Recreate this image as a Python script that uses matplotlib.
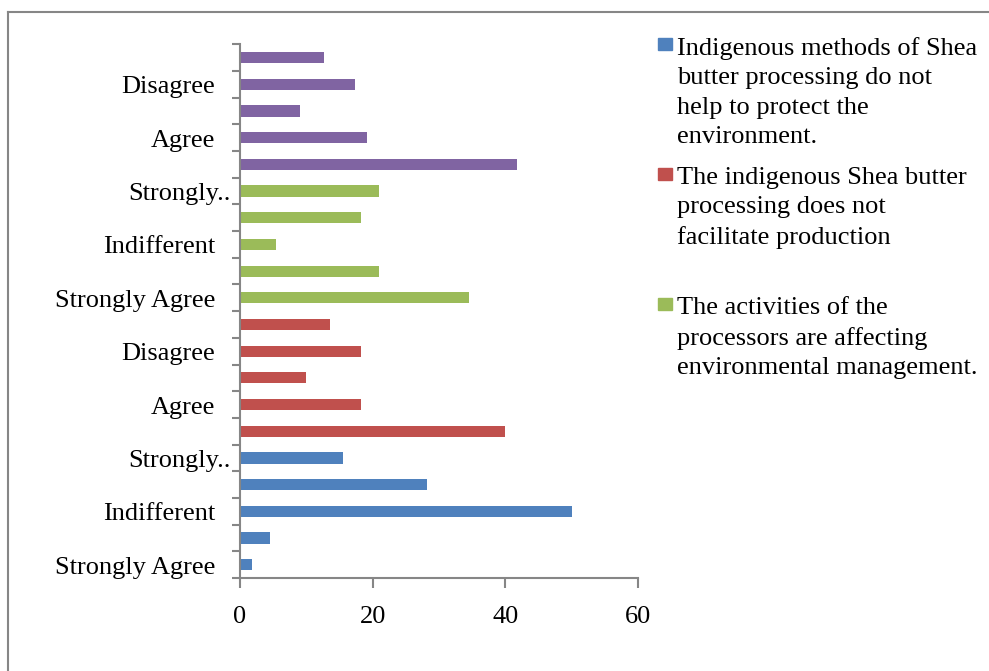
import numpy as np
import matplotlib
import matplotlib.pyplot as plt
from matplotlib.patches import Rectangle
from matplotlib.lines import Line2D
import matplotlib.transforms as mtransforms

# --- data ---
responses = ["Strongly Agree", "Agree", "Indifferent", "Disagree", "Strongly Disagree"]
series_names = [
    "Indigenous methods of Shea\nbutter processing do not\nhelp to protect the\nenvironment.",
    "The indigenous Shea butter\nprocessing does not\nfacilitate production",
    "The activities of the\nprocessors are affecting\nenvironmental management.",
]
blue_vals = [1.8, 4.5, 50.0, 28.2, 15.5]
red_vals = [40.0, 18.2, 10.0, 18.2, 13.6]
green_vals = [34.5, 20.9, 5.5, 18.2, 20.9]
purple_vals = [41.8, 19.1, 9.1, 17.3, 12.7]
# label shown only on every other category (Excel skips), long ones truncated
shown_labels = ["Strongly Agree", "Indifferent", "Strongly..", "Agree", "Disagree",
                "Strongly Agree", "Indifferent", "Strongly..", "Agree", "Disagree"]
xticks = [0, 20, 40, 60]

colors = ["#4F81BD", "#C0504D", "#9BBB59", "#8064A2"]
grey = "#868686"

matplotlib.rcParams.update({
    "font.family": "Liberation Serif",
    "font.size": 19,
})

fig = plt.figure(figsize=(9.89, 6.71), dpi=100)
ax = fig.add_axes([240 / 989, 1 - 578 / 671, 398 / 989, (578 - 44.3) / 671])

all_vals = [blue_vals, red_vals, green_vals, purple_vals]
pos = 0
for vals, c in zip(all_vals, colors):
    y = np.arange(pos, pos + len(vals))
    ax.barh(y, vals, height=0.42, color=c, edgecolor="none")
    pos += len(vals)
n = pos

ax.set_xlim(0, 60)
ax.set_ylim(-0.5, n - 0.5)
ax.set_xticks(xticks)
ax.set_xticklabels([str(t) for t in xticks])
ax.tick_params(axis="x", direction="out", length=7, width=1.5, color=grey, pad=13)

# y ticks at category boundaries, no labels
ax.set_yticks(np.arange(-0.5, n, 1))
ax.set_yticklabels([])
ax.tick_params(axis="y", direction="out", length=6, width=1.5, color=grey)

# category labels on every other slot
trans = mtransforms.blended_transform_factory(ax.transAxes, ax.transData)
shift = mtransforms.ScaledTranslation(0, -3 / 100, fig.dpi_scale_trans)
for i, lab in enumerate(shown_labels):
    xoff = -25 / 398 if not lab.endswith("..") else -9 / 398
    ax.text(xoff, 2 * i, lab, transform=trans + shift, ha="right", va="center")

for s in ["top", "right"]:
    ax.spines[s].set_visible(False)
for s in ["left", "bottom"]:
    ax.spines[s].set_color(grey)
    ax.spines[s].set_linewidth(1.5)

# legend, drawn by hand (Excel spacing)
for i, (name, c) in enumerate(zip(series_names, colors)):
    top = 37 + 130 * i
    fig.patches.append(Rectangle((658 / 989, 1 - 50 / 671 - 130 * i / 671), 14 / 989, 12 / 671,
                                 transform=fig.transFigure, color=c))
    fig.text(677 / 989, 1 - top / 671, name, ha="left", va="top",
             linespacing=1.44, fontsize=19)

# outer chart border (cropped on right/bottom)
fig.add_artist(Line2D([8 / 989, 8 / 989], [0, 1 - 12 / 671], transform=fig.transFigure,
                      color=grey, lw=1.5))
fig.add_artist(Line2D([8 / 989, 1], [1 - 12 / 671, 1 - 12 / 671], transform=fig.transFigure,
                      color=grey, lw=1.5))

fig.savefig("out.png", dpi=100)
